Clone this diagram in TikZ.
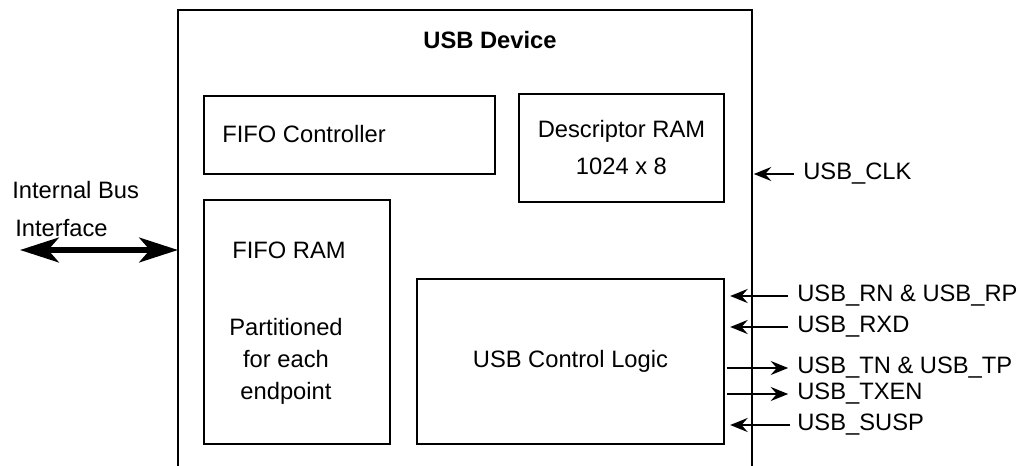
\documentclass[tikz,border=0pt]{standalone}
\usepackage{fontspec}
\setmainfont{Liberation Sans}
\usetikzlibrary{arrows.meta, positioning, calc}

\begin{document}
\begin{tikzpicture}[
  x=0.02cm, y=-0.02cm,
  box/.style={rectangle, draw, line width=1.1pt, anchor=north west, inner sep=0pt},
  txt/.style={font=\fontsize{13.5}{18}\selectfont, inner sep=0pt},
  sig/.style={-{Stealth[length=10pt, width=8pt, inset=3.5pt]}, line width=0.8pt},
  bus/.style={{Stealth[length=22pt, width=14pt, inset=6pt]}-{Stealth[length=22pt, width=14pt, inset=6pt]}, line width=3.4pt}
]
\useasboundingbox (0,0) rectangle (1021,466);

% outer device box, open at the bottom
\coordinate (devsw) at (178,466);
\coordinate (devnw) at (178,10);
\coordinate (devne) at (752,10);
\coordinate (devse) at (752,466);
\draw[line width=1.1pt] (devsw) -- (devnw) -- (devne) -- (devse);
\node[txt, font=\fontsize{13.5}{16}\selectfont\bfseries] (title) at (490,40) {USB Device};

% inner blocks
\node[box, minimum width=5.82cm, minimum height=1.56cm] (fifoctl) at (203,95) {};
\node[box, minimum width=4.1cm, minimum height=2.16cm] (desc) at (518,93) {};
\node[box, minimum width=3.72cm, minimum height=4.88cm] (fiforam) at (203,199) {};
\node[box, minimum width=6.14cm, minimum height=3.3cm] (ctrl) at (416,278) {};

\node[txt, anchor=west] (fifoctltxt) at (222,134) {FIFO Controller};
\node[txt, align=center] (desctxt) at (desc.center) {Descriptor RAM\\[3pt]1024 x 8};
\node[txt, anchor=west] (fiforamtxt) at (232,250) {FIFO RAM};
\node[txt, align=center, font=\fontsize{13.5}{18.2}\selectfont] (parttxt) at (286,361) {Partitioned\\ for each\\endpoint};
\node[txt] (ctrltxt) at (ctrl.center) {USB Control Logic};

% internal bus
\node[txt, anchor=west] (bus1) at (12,190) {Internal Bus};
\node[txt, anchor=west] (bus2) at (15,228) {Interface};
\coordinate (busl) at (20,250);
\draw[bus] (busl) -- (busl -| devnw);

% signals
\node[txt, anchor=west] (clk) at (803,174) {USB\_CLK};
\node[txt, anchor=west] (rn) at (797,296) {USB\_RN \& USB\_RP};
\node[txt, anchor=west] (rxd) at (797,327) {USB\_RXD};
\node[txt, anchor=west] (tn) at (797,368) {USB\_TN \& USB\_TP};
\node[txt, anchor=west] (txen) at (797,394) {USB\_TXEN};
\node[txt, anchor=west] (susp) at (797,425) {USB\_SUSP};

\draw[sig, shorten <=5pt, shorten >=1pt] (clk.west) -- (clk.west -| devne);
\draw[sig, shorten <=5pt, shorten >=3pt] (rn.west) -- (rn.west -| ctrl.east);
\draw[sig, shorten <=5pt, shorten >=3pt] (rxd.west) -- (rxd.west -| ctrl.east);
\draw[sig, shorten <=1pt, shorten >=5pt] (tn.west -| ctrl.east) -- (tn.west);
\draw[sig, shorten <=1pt, shorten >=5pt] (txen.west -| ctrl.east) -- (txen.west);
\draw[sig, shorten <=4pt, shorten >=3pt] (susp.west) -- (susp.west -| ctrl.east);
\end{tikzpicture}
\end{document}
